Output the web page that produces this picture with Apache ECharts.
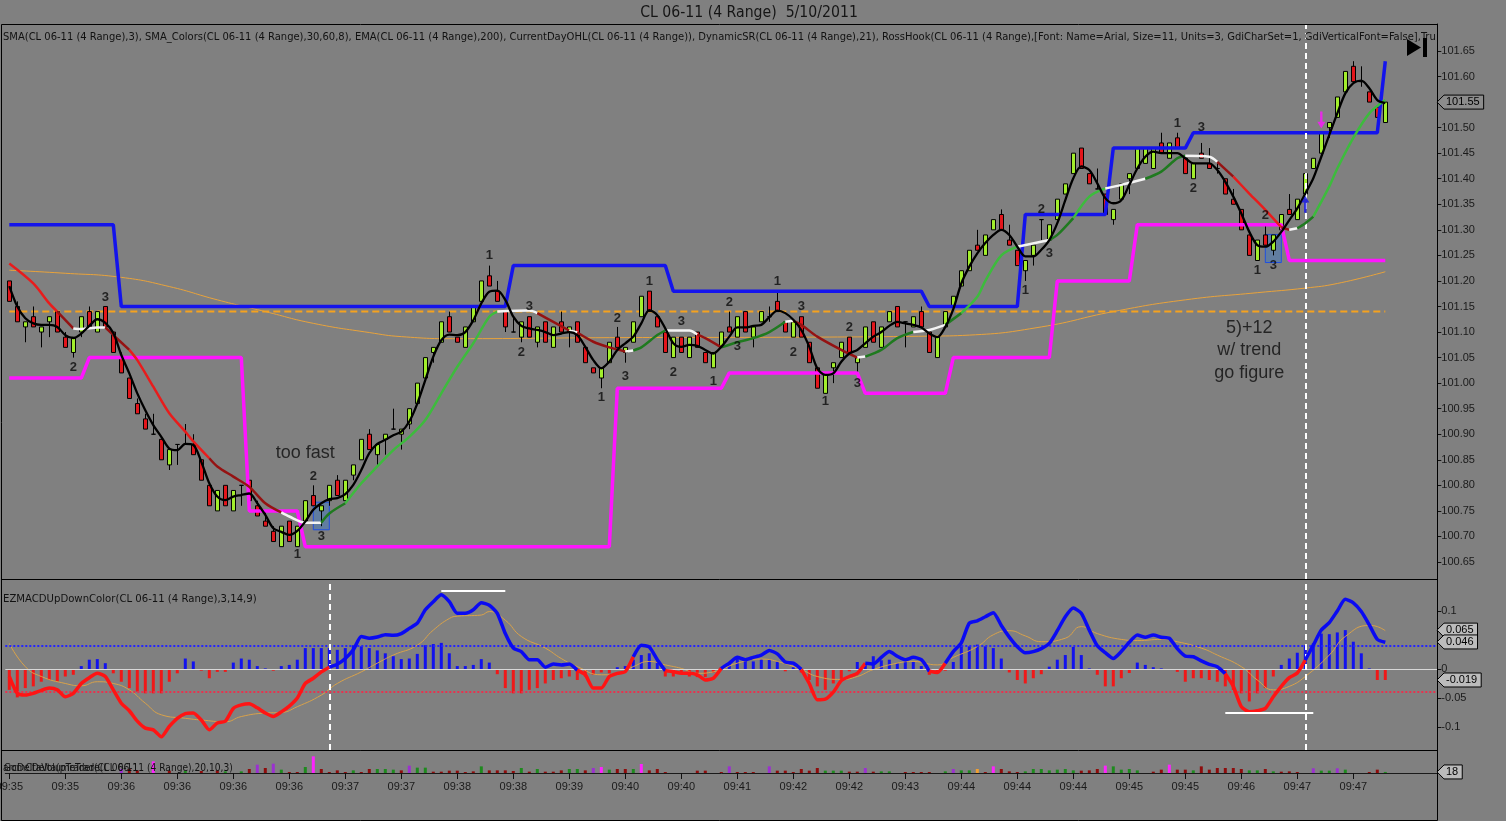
<!DOCTYPE html>
<html><head><meta charset="utf-8">
<script src="https://cdn.jsdelivr.net/npm/echarts@6/dist/echarts.min.js"></script>
<style>html,body{margin:0;padding:0;background:#808080;overflow:hidden}#c{width:1506px;height:821px}</style>
</head><body><div id="c"></div><script>
// ---------------- DATA ----------------
const timeLabels = ["09:35","09:35","09:36","09:36","09:36","09:36","09:37","09:37","09:38","09:38","09:39","09:40","09:40","09:41","09:42","09:42","09:43","09:44","09:44","09:44","09:45","09:45","09:46","09:47","09:47"];
const priceTicks = [100.65,100.70,100.75,100.80,100.85,100.90,100.95,101.00,101.05,101.10,101.15,101.20,101.25,101.30,101.35,101.40,101.45,101.50,101.55,101.60,101.65];
const macdTicks = [-0.1,-0.05,0,0.1];

const opens = [101.20,101.15,101.11,101.13,101.10,101.12,101.14,101.09,101.06,101.10,
101.14,101.10,101.15,101.10,101.05,101.01,100.96,100.93,100.90,100.89,
100.84,100.88,100.88,100.88,100.85,100.80,100.75,100.80,100.75,100.80,
100.81,100.76,100.73,100.71,100.68,100.73,100.68,100.73,100.78,100.75,
100.77,100.81,100.77,100.82,100.85,100.90,100.86,100.89,100.91,100.90,
100.92,100.96,101.01,101.06,101.08,101.13,101.09,101.07,101.12,101.16,
101.21,101.18,101.14,101.10,101.09,101.13,101.08,101.12,101.07,101.12,
101.10,101.12,101.07,101.03,101.01,101.04,101.09,101.06,101.08,101.13,
101.18,101.13,101.10,101.05,101.09,101.05,101.10,101.06,101.03,101.07,
101.11,101.09,101.14,101.09,101.12,101.13,101.16,101.12,101.09,101.13,
101.08,101.03,100.98,101.03,101.05,101.09,101.04,101.07,101.12,101.07,
101.12,101.15,101.12,101.11,101.14,101.10,101.05,101.11,101.15,101.19,
101.22,101.27,101.25,101.30,101.33,101.28,101.26,101.22,101.25,101.32,
101.28,101.32,101.37,101.41,101.46,101.41,101.38,101.37,101.32,101.36,
101.40,101.42,101.43,101.42,101.47,101.44,101.48,101.44,101.40,101.45,
101.43,101.42,101.40,101.36,101.34,101.29,101.24,101.29,101.26,101.30,
101.34,101.32,101.37,101.42,101.45,101.50,101.52,101.57,101.62,101.59,
101.57,101.54,101.51];
const closes = [101.16,101.12,101.12,101.11,101.11,101.13,101.10,101.07,101.09,101.13,
101.11,101.14,101.11,101.06,101.02,100.97,100.94,100.91,100.90,100.85,
100.87,100.88,100.88,100.86,100.81,100.76,100.79,100.76,100.79,100.80,
100.77,100.74,100.72,100.69,100.72,100.69,100.72,100.77,100.76,100.76,
100.80,100.78,100.81,100.84,100.89,100.87,100.88,100.90,100.91,100.91,
100.95,101.00,101.05,101.07,101.12,101.10,101.08,101.11,101.15,101.20,
101.19,101.16,101.11,101.10,101.12,101.09,101.11,101.08,101.11,101.10,
101.11,101.08,101.04,101.02,101.03,101.08,101.07,101.07,101.12,101.17,
101.14,101.11,101.06,101.09,101.06,101.09,101.07,101.04,101.06,101.10,
101.10,101.13,101.10,101.11,101.14,101.13,101.14,101.10,101.12,101.09,
101.04,100.99,101.02,101.04,101.08,101.06,101.05,101.11,101.08,101.11,
101.14,101.11,101.12,101.13,101.11,101.06,101.09,101.14,101.17,101.22,
101.26,101.26,101.29,101.32,101.30,101.27,101.23,101.24,101.27,101.32,
101.31,101.36,101.39,101.45,101.42,101.39,101.38,101.33,101.34,101.39,
101.41,101.46,101.46,101.46,101.45,101.47,101.46,101.41,101.43,101.44,
101.42,101.42,101.37,101.35,101.30,101.25,101.28,101.27,101.29,101.33,
101.33,101.36,101.41,101.44,101.49,101.51,101.56,101.61,101.59,101.59,
101.55,101.52,101.55];
const highs = [101.20,101.16,101.12,101.15,101.11,101.13,101.14,101.10,101.09,101.13,
101.15,101.14,101.15,101.10,101.06,101.01,100.97,100.94,100.94,100.89,
100.87,100.88,100.92,100.90,100.85,100.80,100.79,100.80,100.79,100.80,
100.81,100.77,100.75,100.72,100.72,100.73,100.72,100.77,100.80,100.76,
100.80,100.82,100.81,100.84,100.89,100.91,100.88,100.90,100.95,100.91,
100.95,101.00,101.05,101.07,101.12,101.14,101.09,101.11,101.15,101.20,
101.23,101.20,101.14,101.13,101.12,101.13,101.11,101.12,101.11,101.14,
101.11,101.12,101.07,101.03,101.03,101.08,101.11,101.07,101.12,101.17,
101.18,101.13,101.10,101.09,101.09,101.09,101.10,101.06,101.06,101.10,
101.14,101.13,101.14,101.11,101.14,101.15,101.18,101.12,101.12,101.13,
101.08,101.03,101.02,101.04,101.08,101.09,101.05,101.11,101.12,101.11,
101.14,101.15,101.12,101.13,101.15,101.10,101.09,101.14,101.17,101.22,
101.26,101.30,101.29,101.32,101.34,101.31,101.26,101.24,101.27,101.32,
101.31,101.36,101.39,101.45,101.46,101.41,101.42,101.37,101.34,101.39,
101.41,101.46,101.46,101.46,101.49,101.47,101.49,101.44,101.43,101.47,
101.46,101.43,101.40,101.38,101.34,101.29,101.28,101.31,101.29,101.33,
101.37,101.36,101.41,101.44,101.49,101.51,101.56,101.61,101.63,101.62,
101.57,101.54,101.55];
const lows = [101.16,101.12,101.08,101.11,101.07,101.09,101.10,101.07,101.05,101.09,
101.11,101.10,101.11,101.06,101.02,100.97,100.94,100.91,100.90,100.85,
100.83,100.84,100.88,100.86,100.81,100.76,100.75,100.76,100.75,100.76,
100.77,100.74,100.72,100.69,100.68,100.69,100.68,100.73,100.76,100.72,
100.76,100.78,100.77,100.81,100.85,100.87,100.84,100.86,100.91,100.87,
100.91,100.96,101.01,101.04,101.08,101.10,101.08,101.07,101.12,101.16,
101.19,101.16,101.10,101.10,101.08,101.09,101.07,101.08,101.07,101.10,
101.07,101.08,101.04,101.02,100.99,101.04,101.07,101.04,101.08,101.13,
101.14,101.11,101.06,101.05,101.06,101.05,101.07,101.04,101.03,101.07,
101.10,101.09,101.10,101.07,101.12,101.12,101.14,101.10,101.09,101.09,
101.04,100.99,100.98,101.00,101.05,101.06,101.02,101.07,101.08,101.07,
101.12,101.11,101.07,101.11,101.11,101.06,101.05,101.11,101.15,101.19,
101.22,101.26,101.25,101.30,101.30,101.27,101.23,101.20,101.23,101.28,
101.28,101.32,101.37,101.41,101.42,101.39,101.38,101.33,101.31,101.36,
101.37,101.42,101.43,101.42,101.45,101.44,101.46,101.41,101.40,101.44,
101.42,101.41,101.37,101.35,101.30,101.25,101.24,101.27,101.25,101.30,
101.33,101.32,101.37,101.42,101.45,101.48,101.52,101.57,101.59,101.58,
101.55,101.52,101.51];

// SMA(3) black line
const sma3 = [101.19,101.15,101.127,101.117,101.114,101.114,101.11,101.094,101.088,101.097,
101.112,101.125,101.118,101.098,101.055,101.019,100.98,100.947,100.918,100.895,
100.872,100.869,100.881,100.879,100.846,100.804,100.778,100.771,100.778,100.781,
100.784,100.765,100.742,100.716,100.709,100.703,100.711,100.729,100.752,100.765,
100.773,100.775,100.783,100.801,100.83,100.863,100.881,100.889,100.898,100.905,
100.925,100.96,101.006,101.052,101.084,101.095,101.094,101.10,101.123,101.156,
101.179,101.181,101.163,101.13,101.112,101.107,101.104,101.10,101.094,101.097,
101.10,101.094,101.071,101.045,101.029,101.042,101.065,101.078,101.091,101.117,
101.143,101.133,101.107,101.078,101.071,101.075,101.073,101.065,101.058,101.071,
101.091,101.109,101.109,101.112,101.114,101.129,101.142,101.137,101.124,101.104,
101.071,101.029,101.016,101.019,101.042,101.058,101.065,101.078,101.091,101.10,
101.112,101.12,101.117,101.114,101.109,101.097,101.09,101.11,101.145,101.195,
101.228,101.254,101.274,101.29,101.30,101.29,101.267,101.248,101.248,101.261,
101.28,101.313,101.358,101.401,101.424,101.417,101.391,101.362,101.352,101.358,
101.388,101.42,101.443,101.453,101.45,101.45,101.45,101.44,101.43,101.43,
101.43,101.417,101.394,101.365,101.332,101.296,101.27,101.267,101.277,101.296,
101.319,101.342,101.371,101.401,101.443,101.486,101.528,101.567,101.587,101.592,
101.577,101.554,101.548];

// SMA_Colors line: sampled points, slope colour code of the segment starting there
const smaBars = [0,3,5,6,8,9,11,12,13,15,16,18,20,22,23,25,26,28,30,32,34,35,37,39,40,42,44,46,48,50,52,54,56,58,60,61,65,66,68,70,71,73,75,77,78,79,81,82,85,86,87,89,91,93,95,97,98,99,101,104,106,107,109,111,113,115,117,119,121,122,124,126,130,131,133,135,137,139,142,144,146,147,150,151,153,155,157,159,160,161,162,163,165,166,168,170,172];
const smaValues = [101.234,101.195,101.156,101.14,101.107,101.106,101.109,101.109,101.094,101.065,101.045,100.993,100.941,100.905,100.886,100.853,100.837,100.817,100.797,100.765,100.747,100.739,100.727,100.727,100.745,100.765,100.804,100.837,100.869,100.895,100.928,100.98,101.032,101.078,101.13,101.14,101.142,101.137,101.12,101.103,101.099,101.081,101.07,101.062,101.064,101.07,101.094,101.103,101.103,101.095,101.088,101.07,101.08,101.088,101.10,101.12,101.122,101.114,101.091,101.065,101.05,101.052,101.065,101.088,101.10,101.104,101.114,101.137,101.169,101.20,101.25,101.267,101.28,101.29,101.323,101.365,101.381,101.388,101.40,101.414,101.44,101.445,101.443,101.433,101.404,101.371,101.339,101.305,101.30,101.303,101.313,101.326,101.385,101.42,101.48,101.528,101.554];
const smaCodes = ['R','R','R','D','W','W','W','D','D','R','R','R','R','R','R','D','D','D','D','D','W','W','W','K','K','G','G','G','G','G','G','G','G','G','G','W','W','D','D','W','D','D','D','W','K','K','K','W','W','D','D','K','K','K','K','W','D','D','D','D','W','K','K','K','W','W','K','G','G','G','G','W','K','K','G','G','W','W','K','K','K','W','W','D','R','R','R','D','W','K','K','G','G','G','G','G','G'];

// EMA(200)
const emaBars = [0,7,14,20,26,32,38,45,49,56,75,100,115,120,129,138,147,156,162,166,172];
const emaValues = [101.221,101.215,101.207,101.189,101.163,101.14,101.117,101.099,101.091,101.087,101.089,101.09,101.092,101.094,101.11,101.14,101.163,101.177,101.186,101.195,101.218];

// CurrentDayOHL level
const dayOpen = 101.14;

// DynamicSR
const dsrUpperBars = [0,13,14,62,63,82,83,114,115,126,127,137,138,147,148,171,172];
const dsrUpperValues = [101.31,101.31,101.15,101.15,101.23,101.23,101.18,101.18,101.15,101.15,101.33,101.33,101.46,101.46,101.49,101.49,101.63];
const dsrLowerBars = [0,9,10,29,30,36,37,75,76,89,90,106,107,117,118,130,131,140,141,159,160,172];
const dsrLowerValues = [101.01,101.01,101.05,101.05,100.75,100.75,100.68,100.68,100.99,100.99,101.02,101.02,100.98,100.98,101.05,101.05,101.20,101.20,101.31,101.31,101.24,101.24];

// RossHook labels [bar, price, text]
const rossHook = [[12,101.167,'3'],[8,101.03,'2'],[38,100.818,'2'],[39,100.70,'3'],[36,100.664,'1'],
[60,101.249,'1'],[65,101.15,'3'],[64,101.06,'2'],[76,101.127,'2'],[74,100.973,'1'],[77,101.013,'3'],
[80,101.199,'1'],[84,101.12,'3'],[83,101.02,'2'],[88,101.003,'1'],[90,101.157,'2'],[91,101.071,'3'],
[96,101.199,'1'],[99,101.15,'3'],[98,101.06,'2'],[105,101.11,'2'],[102,100.964,'1'],[106,101.00,'3'],
[129,101.339,'2'],[130,101.253,'3'],[127,101.182,'1'],[146,101.509,'1'],[149,101.501,'3'],[148,101.382,'2'],
[157,101.329,'2'],[156,101.221,'1'],[158,101.231,'3']];

// hand notes
const noteTexts = ['too fast','5)+12','w/ trend','go figure'];
const noteBars = [37,155,155,155];
const notePrices = [100.863,101.108,101.065,101.02];

// setup boxes [barFrom, barTo, priceTop, priceBottom]
const boxes = [[38,40,100.767,100.713],[157,159,101.291,101.236]];

// signal arrows
const arrowBars = [162,164];
const arrowPrices = [101.35,101.515];
const arrowKinds = ['up','down'];

// marker vertical lines
const priceMarkBars = [162];
const macdMarkBars = [40,162];

// MACD
const macd = [-0.013,-0.042,-0.045,-0.042,-0.037,-0.033,-0.036,-0.048,-0.042,-0.025,
-0.015,-0.0075,-0.013,-0.036,-0.059,-0.072,-0.09,-0.102,-0.105,-0.117,
-0.099,-0.085,-0.077,-0.076,-0.088,-0.105,-0.093,-0.090,-0.068,-0.062,
-0.060,-0.067,-0.076,-0.082,-0.074,-0.064,-0.050,-0.025,-0.016,-0.005,
0.003,0.008,0.018,0.033,0.056,0.053,0.055,0.059,0.058,0.061,
0.070,0.079,0.102,0.116,0.128,0.116,0.096,0.096,0.102,0.114,
0.110,0.096,0.061,0.036,0.030,0.016,0.016,0.003,0.0086,0.007,
0.0086,-0.002,-0.010,-0.033,-0.033,-0.013,-0.0075,-0.0046,0.021,0.041,
0.038,0.016,-0.003,-0.0046,-0.0075,-0.0075,-0.010,-0.019,-0.016,0.001,
0.010,0.020,0.016,0.020,0.024,0.032,0.026,0.012,0.010,-0.0006,
-0.025,-0.053,-0.052,-0.040,-0.020,-0.013,-0.0075,0.0098,0.0086,0.020,
0.030,0.022,0.016,0.020,0.016,-0.004,-0.006,0.010,0.030,0.045,
0.079,0.083,0.090,0.097,0.075,0.055,0.0385,0.028,0.030,0.035,
0.044,0.066,0.090,0.105,0.096,0.067,0.040,0.028,0.018,0.030,
0.046,0.0586,0.0546,0.0586,0.0546,0.053,0.035,0.022,0.021,0.014,
0.008,0.004,-0.008,-0.030,-0.065,-0.0736,-0.072,-0.068,-0.048,-0.030,
-0.015,-0.007,0.0155,0.041,0.067,0.080,0.100,0.120,0.114,0.099,
0.076,0.051,0.046];
const signalBars = [0,2,4,7,9,11,13,15,17,19,22,24,27,29,32,34,36,39,41,44,46,48,51,53,55,56,59,60,62,64,67,69,71,74,76,78,80,82,84,86,88,91,94,96,99,101,104,106,108,111,113,116,118,121,123,125,127,129,132,134,136,139,141,144,146,149,151,154,156,158,160,162,165,167,170,171,172];
const signalValues = [0.044,0.004,-0.013,-0.025,-0.029,-0.022,-0.025,-0.036,-0.059,-0.079,-0.085,-0.088,-0.091,-0.082,-0.076,-0.075,-0.065,-0.045,-0.025,-0.005,0.010,0.024,0.041,0.067,0.087,0.091,0.093,0.099,0.084,0.056,0.036,0.018,0.004,-0.010,-0.009,0.004,0.013,0.007,0.001,-0.0075,-0.005,0.010,0.017,0.013,-0.001,-0.013,-0.018,-0.013,-0.001,0.010,0.013,0.007,0.020,0.0385,0.059,0.066,0.057,0.047,0.053,0.073,0.061,0.051,0.049,0.051,0.047,0.036,0.024,0.004,-0.019,-0.036,-0.030,-0.013,0.024,0.056,0.075,0.073,0.066];
const hist = [-0.036,-0.049,-0.033,-0.030,-0.022,-0.019,-0.022,-0.013,-0.010,0.005,
0.016,0.017,0.010,-0.0075,-0.022,-0.033,-0.039,-0.042,-0.042,-0.042,
-0.022,-0.0075,0.018,0.013,-0.003,-0.016,-0.005,-0.005,0.011,0.018,
0.016,0.005,0.001,-0.003,0.005,0.007,0.016,0.036,0.036,0.036,
0.036,0.033,0.036,0.041,0.039,0.036,0.032,0.027,0.022,0.017,
0.018,0.026,0.041,0.043,0.045,0.027,0.005,0.005,0.007,0.017,
0.011,-0.009,-0.033,-0.042,-0.042,-0.036,-0.033,-0.025,-0.019,-0.016,
-0.013,-0.019,-0.013,-0.010,-0.006,-0.0075,0.003,0.005,0.016,0.024,
0.027,0.013,-0.013,-0.013,-0.0075,-0.013,-0.014,-0.014,-0.006,0.003,
0.010,0.018,0.016,0.013,0.017,0.016,0.013,-0.004,0.003,-0.006,
-0.019,-0.030,-0.036,-0.025,-0.019,-0.004,0.012,0.008,0.022,0.015,
0.016,0.010,0.015,0.012,0.005,-0.010,-0.007,-0.003,0.012,0.039,
0.039,0.042,0.039,0.036,0.018,-0.006,-0.019,-0.025,-0.016,-0.009,
0.004,0.016,0.024,0.038,0.024,0.001,-0.010,-0.030,-0.030,-0.016,
-0.007,0.011,0.007,0.003,0.001,0,-0.005,-0.022,-0.016,-0.016,
-0.019,-0.022,-0.030,-0.036,-0.042,-0.056,-0.042,-0.033,-0.013,0.007,
0.018,0.028,0.041,0.044,0.061,0.060,0.063,0.067,0.047,0.027,
0.001,-0.019,-0.019];
const macdLevels = [0.04,-0.04];
const macdNotes = [[54,62,0.1345],[152,163,-0.0759]];

// Delta volume panel
const volumeBars = [14,15,16,18,20,22,24,26,27,29,30,31,32,33,34,35,36,37,38,39,40,41,42,43,44,45,46,47,48,49,50,51,52,53,54,55,56,57,58,59,60,61,62,63,64,65,66,67,68,69,70,71,72,73,74,75,76,77,78,79,80,81,82,86,87,89,90,91,92,93,95,96,97,98,99,100,101,102,103,104,105,106,107,108,109,110,112,113,114,115,117,118,119,120,121,122,123,124,125,126,127,128,129,130,131,132,133,134,135,136,137,138,139,140,141,143,144,145,146,147,148,149,150,151,152,153,154,155,156,157,158,159,160,161,163,164,165,166,167,170,171,172];
const volumeValues = [68,68,45,198,40,34,34,45,28,28,68,142,85,159,57,17,17,102,283,68,17,45,17,45,17,68,68,68,57,45,125,91,91,23,23,40,40,17,28,113,45,45,45,34,85,23,68,23,23,45,68,68,45,85,102,57,68,68,68,153,45,68,17,40,40,17,113,17,17,17,113,40,40,17,68,40,85,40,40,40,23,23,85,23,28,28,17,17,17,17,28,68,45,45,68,17,113,68,28,17,28,68,68,45,57,68,45,40,45,68,125,113,57,68,45,23,57,142,57,57,45,113,57,85,85,85,68,45,45,68,28,23,28,17,80,40,40,80,57,17,57,18];
const volumeKinds = ['pu','dn','dn','mg','dn','up','dn','dn','up','up','dn','pu','dn','pu','up','dn','dn','up','mg','dn','dn','dn','dn','up','dn','dn','up','up','up','dn','pu','up','up','dn','dn','dn','dn','dn','dn','up','dn','dn','dn','dn','up','dn','up','dn','dn','dn','up','up','dn','pu','mg','up','dn','dn','up','mg','dn','dn','dn','dn','dn','dn','pu','dn','dn','dn','pu','dn','dn','dn','dn','dn','dn','up','up','up','dn','dn','pu','dn','up','up','dn','dn','dn','dn','up','pu','up','up','or','dn','mg','dn','dn','dn','up','up','up','up','up','up','up','dn','dn','dn','mg','up','up','up','up','dn','dn','mg','dn','dn','up','dn','dn','dn','dn','dn','dn','up','up','dn','up','dn','dn','dn','pu','up','up','pu','up','dn','dn','up'];

// right-axis value tags
const priceTag = 101.55;
const macdTagValues = [0.067,0.0466];
const macdTagTexts = ['0.065','0.046'];
const histTagValue = -0.019;
const volumeTag = 18;

// text
const titleText = 'CL 06-11 (4 Range)  5/10/2011';
const indicatorText = 'SMA(CL 06-11 (4 Range),3), SMA_Colors(CL 06-11 (4 Range),30,60,8), EMA(CL 06-11 (4 Range),200), CurrentDayOHL(CL 06-11 (4 Range)), DynamicSR(CL 06-11 (4 Range),21), RossHook(CL 06-11 (4 Range),[Font: Name=Arial, Size=11, Units=3, GdiCharSet=1, GdiVerticalFont=False],Tru';
const macdLabel = 'EZMACDUpDownColor(CL 06-11 (4 Range),3,14,9)';
const volLabelA = 'arcDeltaVolumeTrade(CL 06-11 (4 Range),20,10,3)';
const volLabelB = 'GomCDelta(pTrader(CL 06-11';

// ---------------- STYLE / BUILD ----------------
const N_CAT = 179;
const cats = Array.from({length:N_CAT},(_,i)=>String(i));
const BG = '#808080';
const FONT = "'Liberation Sans',Arial,sans-serif";
const NARROW = "'Liberation Sans Narrow','Arial Narrow','DejaVu Sans Condensed',sans-serif";
const UP = '#A2EE2C', DOWN = '#E3151B';
const SMA_COL = {R:'#E81C1C', D:'#951212', W:'#F4F4F4', G:'#3DBB3D', K:'#1F7A1F'};
const VOL_COL = {dn:'#8E0C0C', up:'#1E8A1E', pu:'#9B30D0', mg:'#FF22FF', or:'#F0A030'};
const MACD_POS = '#0A0AF2', MACD_NEG = '#FF1414';
const GL = 5.3, GW = 1432;
const LAST_TICK = (timeLabels.length - 1) * 7;

function fit(text, family, weight, target){
  const c = document.createElement('canvas').getContext('2d');
  c.font = weight + ' 100px ' + family;
  return 100 * target / c.measureText(text).width;
}

const chart = echarts.init(document.getElementById('c'), null, {renderer:'canvas', width:1506, height:821});

const series = [];
// candles
series.push({
  type:'candlestick', xAxisIndex:0, yAxisIndex:0, z:3, barWidth:5,
  data: opens.map((o,i)=>[o, closes[i], lows[i], highs[i]]),
  itemStyle:{color:UP, color0:DOWN, borderColor:'#000', borderColor0:'#000', borderWidth:1},
  markArea:{silent:true, itemStyle:{color:'rgba(40,120,220,0.35)', borderColor:'#1E4FE0', borderWidth:1},
    data: boxes.map(b=>[{coord:[b[0],b[2]]},{coord:[b[1],b[3]]}])}
});
// EMA 200
series.push({type:'line', xAxisIndex:0, yAxisIndex:0, z:3, showSymbol:false, smooth:true,
  data: emaBars.map((b,i)=>[b, emaValues[i]]), lineStyle:{color:'#E9A33B', width:1}});
// day open dashed level + vertical white marker
series.push({type:'line', xAxisIndex:0, yAxisIndex:0, z:3, showSymbol:false,
  data:[[0,dayOpen],[opens.length-1,dayOpen]], lineStyle:{color:'#F5A21E', width:2, type:[7,4]},
  markLine:{silent:true, symbol:'none', label:{show:false},
    data: priceMarkBars.map(b=>({xAxis:b, lineStyle:{color:'#FFFFFF', width:2, type:[6,4]}}))}});
// DynamicSR
series.push({type:'line', xAxisIndex:0, yAxisIndex:0, z:4, showSymbol:false,
  data: dsrUpperBars.map((b,i)=>[b, dsrUpperValues[i]]), lineStyle:{color:'#1414EC', width:3.5}});
series.push({type:'line', xAxisIndex:0, yAxisIndex:0, z:4, showSymbol:false,
  data: dsrLowerBars.map((b,i)=>[b, dsrLowerValues[i]]), lineStyle:{color:'#FF14FF', width:3.5}});
// SMA_Colors segments grouped by colour runs
(function(){
  let i = 0;
  while (i < smaBars.length - 1){
    let j = i;
    while (j + 1 < smaBars.length - 1 && smaCodes[j+1] === smaCodes[i]) j++;
    const pts = [];
    for (let k = i; k <= j + 1; k++) pts.push([smaBars[k], smaValues[k]]);
    series.push({type:'line', xAxisIndex:0, yAxisIndex:0, z:5, showSymbol:false, smooth:0.3,
      data: pts, lineStyle:{color:SMA_COL[smaCodes[i]], width:2.5}});
    i = j + 1;
  }
})();
// SMA 3 black
series.push({type:'line', xAxisIndex:0, yAxisIndex:0, z:6, showSymbol:false, smooth:0.3,
  data: sma3, lineStyle:{color:'#000', width:2.3}});
// RossHook digits
series.push({type:'scatter', xAxisIndex:0, yAxisIndex:0, z:7, symbolSize:1, itemStyle:{color:'rgba(0,0,0,0)'},
  data: rossHook.map(r=>({value:[r[0], r[1]], label:{formatter:r[2]}})),
  label:{show:true, position:'inside', color:'#0a0a0a', fontWeight:'bold', fontSize:13, fontFamily:FONT}});
// notes
series.push({type:'scatter', xAxisIndex:0, yAxisIndex:0, z:7, symbolSize:1, itemStyle:{color:'rgba(0,0,0,0)'},
  data: noteTexts.map((t,i)=>({value:[noteBars[i], notePrices[i]], label:{formatter:t}})),
  label:{show:true, position:'inside', color:'#0d0d0d', fontSize:18, fontFamily:FONT}});
// arrows
series.push({type:'scatter', xAxisIndex:0, yAxisIndex:0, z:8, symbol:'path://M5,0 L10,7 L6.5,7 L6.5,18 L3.5,18 L3.5,7 L0,7 Z', symbolSize:[8,17],
  data: arrowBars.map((b,i)=>({value:[b, arrowPrices[i]], symbolRotate: arrowKinds[i]==='up'?0:180,
    itemStyle:{color: arrowKinds[i]==='up' ? '#1414EC' : '#FF14FF'}}))});

// MACD histogram
series.push({type:'bar', xAxisIndex:1, yAxisIndex:1, z:3, barWidth:3, data: hist,
  itemStyle:{color: p => p.value >= 0 ? '#1212EE' : '#F01818'},
  markLine:{silent:true, symbol:'none', label:{show:false}, data:[
    {yAxis:0, lineStyle:{color:'#D8D8D8', width:1, type:'solid'}},
    {yAxis:macdLevels[0], lineStyle:{color:'#2424FF', width:2, type:[2,2]}},
    {yAxis:macdLevels[1], lineStyle:{color:'#E8324E', width:2, type:[2,2]}}
  ].concat(macdMarkBars.map(b=>({xAxis:b, lineStyle:{color:'#FFFFFF', width:2, type:[6,4]}})))}});
// white annotation strokes
macdNotes.forEach(n=>{
  series.push({type:'line', xAxisIndex:1, yAxisIndex:1, z:6, showSymbol:false,
    data:[[n[0], n[2]],[n[1], n[2]]], lineStyle:{color:'#FFFFFF', width:2}});
});
// signal
series.push({type:'line', xAxisIndex:1, yAxisIndex:1, z:4, showSymbol:false, smooth:true,
  data: signalBars.map((b,i)=>[b, signalValues[i]]), lineStyle:{color:'#D9A24A', width:1}});
// MACD line coloured by sign (one series per run)
(function(){
  let i = 0;
  while (i < macd.length - 1){
    const pos = macd[i] >= 0;
    let j = i;
    while (j + 1 < macd.length - 1 && (macd[j+1] >= 0) === pos) j++;
    const pts = [];
    for (let k = i; k <= j + 1; k++) pts.push([k, macd[k]]);
    series.push({type:'line', xAxisIndex:1, yAxisIndex:1, z:5, showSymbol:false, smooth:0.2,
      data: pts, lineStyle:{color: pos ? MACD_POS : MACD_NEG, width:3.5}});
    i = j + 1;
  }
})();
// volume
const volData = new Array(opens.length).fill(0);
const volCol = new Array(opens.length).fill('dn');
volumeBars.forEach((b,i)=>{ volData[b] = volumeValues[i]; volCol[b] = volumeKinds[i]; });
series.push({type:'bar', xAxisIndex:2, yAxisIndex:2, z:3, barWidth:3, data: volData,
  itemStyle:{color: p => VOL_COL[volCol[p.dataIndex]]}});

const baseX = {type:'category', data:cats, boundaryGap:true};
const option = {
  backgroundColor: BG,
  animation:false,
  grid:[
    {left:GL, width:GW, top:24, height:555, containLabel:false, outerBoundsMode:'none'},
    {left:GL, width:GW, top:580, height:170, containLabel:false, outerBoundsMode:'none'},
    {left:GL, width:GW, top:751, height:22, containLabel:false, outerBoundsMode:'none'}
  ],
  xAxis:[
    Object.assign({gridIndex:0, show:false}, baseX),
    Object.assign({gridIndex:1, show:false}, baseX),
    Object.assign({gridIndex:2, show:true,
      axisLine:{show:true, lineStyle:{color:'#1a1a1a', width:1}},
      axisTick:{show:true, alignWithLabel:true, interval:(i)=> i%7===0 && i<=LAST_TICK, length:6, lineStyle:{color:'#111'}},
      axisLabel:{show:true, interval:(i)=> i%7===0 && i<=LAST_TICK, formatter:(v,i)=> timeLabels[i/7] || '', color:'#1a1a1a', fontSize:11, fontFamily:FONT, margin:8},
      splitLine:{show:false}}, baseX)
  ],
  yAxis:[
    {type:'value', gridIndex:0, position:'right', min:100.6167, max:101.7028, scale:true,
      axisLine:{show:true, lineStyle:{color:'#000'}},
      axisTick:{show:true, length:4, customValues:priceTicks, lineStyle:{color:'#111'}},
      axisLabel:{show:true, customValues:priceTicks, formatter:v=>v.toFixed(2), color:'#1a1a1a', fontSize:11, fontFamily:FONT, margin:4},
      splitLine:{show:false}},
    {type:'value', gridIndex:1, position:'right', min:-0.1397, max:0.1534, scale:true,
      axisLine:{show:true, lineStyle:{color:'#000'}},
      axisTick:{show:true, length:4, customValues:macdTicks, lineStyle:{color:'#111'}},
      axisLabel:{show:true, customValues:macdTicks, formatter:v=> String(Math.round(v*100)/100), color:'#1a1a1a', fontSize:11, fontFamily:FONT, margin:4},
      splitLine:{show:false}},
    {type:'value', gridIndex:2, position:'right', min:0, max:374,
      axisLine:{show:true, lineStyle:{color:'#000'}}, axisTick:{show:false}, axisLabel:{show:false}, splitLine:{show:false}}
  ],
  series: series
};
chart.setOption(option);

// ---------------- overlay graphics ----------------
const g = [];
g.push({type:'rect', shape:{x:1.5, y:24.5, width:1436, height:796}, style:{fill:null, stroke:'#000', lineWidth:1}, z:10});
g.push({type:'line', shape:{x1:1, y1:579.5, x2:1437.5, y2:579.5}, style:{stroke:'#000', lineWidth:1}, z:10});
g.push({type:'line', shape:{x1:1, y1:750.5, x2:1437.5, y2:750.5}, style:{stroke:'#000', lineWidth:1}, z:10});
const tSize = fit(titleText, NARROW, 'normal', 218);
g.push({type:'text', x:749, y:13, z:10, style:{text:titleText, fontSize:tSize, fontFamily:NARROW, fill:'#151515', align:'center', verticalAlign:'middle'}});
const prefix = indicatorText.slice(0, indicatorText.lastIndexOf(',') + 1);
const iSize = fit(prefix, NARROW, 'normal', 1420);
g.push({type:'text', x:3, y:37, z:10, style:{text:indicatorText, fontSize:iSize, fontFamily:NARROW, fill:'#111', align:'left', verticalAlign:'middle'}});
g.push({type:'polygon', z:10, shape:{points:[[1407,39],[1407,56],[1421,47.5]]}, style:{fill:'#000'}});
g.push({type:'rect', z:10, shape:{x:1423, y:38, width:4, height:19}, style:{fill:'#000'}});
const mSize = fit(macdLabel, NARROW, 'normal', 254);
g.push({type:'text', x:3, y:599, z:10, style:{text:macdLabel, fontSize:mSize, fontFamily:NARROW, fill:'#111', align:'left', verticalAlign:'middle'}});
const vSize = fit(volLabelA, NARROW, 'normal', 230);
g.push({type:'text', x:3, y:768, z:10, style:{text:volLabelA, fontSize:vSize, fontFamily:NARROW, fill:'#111', align:'left', verticalAlign:'middle'}});
g.push({type:'text', x:4, y:768, z:10, style:{text:volLabelB, fontSize:vSize, fontFamily:NARROW, fill:'#111', align:'left', verticalAlign:'middle'}});

function tag(y, text, fill){
  const c = document.createElement('canvas').getContext('2d');
  c.font = '11px ' + FONT;
  const w = c.measureText(text).width + 6;
  g.push({type:'polygon', z:12, shape:{points:[[1437,y],[1444,y-7],[1444+w,y-7],[1444+w,y+7],[1444,y+7]]}, style:{fill:fill, stroke:'#000', lineWidth:1}});
  g.push({type:'text', z:13, x:1446, y:y, style:{text:text, fontSize:11, fontFamily:FONT, fill:'#000', align:'left', verticalAlign:'middle'}});
}
tag(chart.convertToPixel({yAxisIndex:0}, priceTag), priceTag.toFixed(2), '#8c8c8c');
macdTagValues.forEach((v,i)=> tag(chart.convertToPixel({yAxisIndex:1}, v), macdTagTexts[i], '#bcbcbc'));
tag(chart.convertToPixel({yAxisIndex:1}, histTagValue), String(histTagValue), '#bcbcbc');
tag(chart.convertToPixel({yAxisIndex:2}, volumeTag), String(volumeTag), '#bcbcbc');

chart.setOption({graphic: g});
</script></body></html>
